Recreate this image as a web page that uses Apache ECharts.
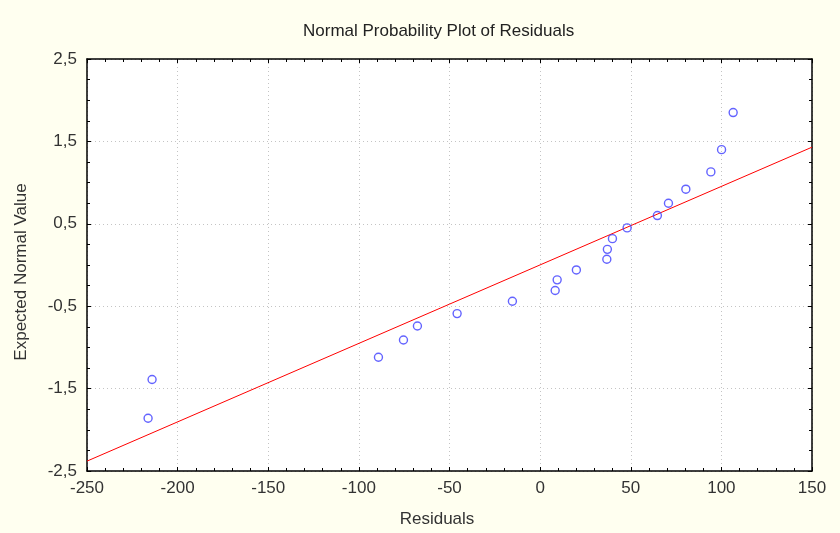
<!DOCTYPE html>
<html>
<head>
<meta charset="utf-8">
<script src="https://cdn.jsdelivr.net/npm/echarts@6/dist/echarts.min.js"></script>
<style>
  html, body { margin: 0; padding: 0; background: #fffff0; }
  #chart { width: 840px; height: 533px; }
</style>
</head>
<body>
<div id="chart"></div>
<script>
// residuals (x) and expected normal values (y)
const residuals = [-216.3, -214.1, -89.2, -75.4, -67.7, -45.8, -15.3, 8.3, 9.4, 20.0,
                   36.8, 37.1, 39.9, 48.0, 64.7, 70.8, 80.4, 94.2, 100.1, 106.5];
const expectedNormal = [-1.86, -1.39, -1.12, -0.91, -0.74, -0.59, -0.44, -0.31, -0.18, -0.06,
                        0.07, 0.19, 0.32, 0.45, 0.60, 0.75, 0.92, 1.13, 1.40, 1.85];
// reference line end points
const lineX = [-250, 150];
const lineY = [-2.38, 1.43];

const font = 'Liberation Sans, Arial, sans-serif';
const chart = echarts.init(document.getElementById('chart'));

const axisCommon = {
  axisLine: { show: true, onZero: false, lineStyle: { color: '#000', width: 1.5 } },
  axisTick: { show: true, inside: true, length: 4, lineStyle: { color: '#000' } },
  minorTick: { show: true, length: 3, lineStyle: { color: '#000' } }
};

chart.setOption({
  backgroundColor: '#fffff0',
  animation: false,
  title: {
    text: 'Normal Probability Plot of Residuals',
    left: 298,
    top: 18,
    textStyle: { fontFamily: font, fontSize: 17, fontWeight: 'normal', color: '#222' }
  },
  grid: { left: 87, right: 28, top: 59, bottom: 61, show: true, backgroundColor: '#fff', borderWidth: 0 },
  xAxis: [
    Object.assign({}, axisCommon, {
      type: 'value', min: -250, max: 150, interval: 50,
      name: 'Residuals', nameLocation: 'middle', nameGap: 40,
      nameTextStyle: { fontFamily: font, fontSize: 17, color: '#333', padding: [0, 25, 0, 0] },
      minorTick: Object.assign({}, axisCommon.minorTick, { splitNumber: 5 }),
      axisLabel: { fontFamily: font, fontSize: 17, color: '#333', margin: 9 },
      splitLine: { show: true, lineStyle: { color: '#c4c4c4', type: [1, 3] } }
    }),
    Object.assign({}, axisCommon, {
      type: 'value', min: -250, max: 150, interval: 50, position: 'top',
      minorTick: Object.assign({}, axisCommon.minorTick, { splitNumber: 5 }),
      axisLabel: { show: false }, splitLine: { show: false }
    })
  ],
  yAxis: [
    Object.assign({}, axisCommon, {
      type: 'value', min: -2.5, max: 2.5, interval: 1,
      name: 'Expected Normal Value', nameLocation: 'middle', nameGap: 57,
      nameTextStyle: { fontFamily: font, fontSize: 17, color: '#333', padding: [0, 14, 0, 0] },
      minorTick: Object.assign({}, axisCommon.minorTick, { splitNumber: 4 }),
      axisLabel: { fontFamily: font, fontSize: 17, color: '#333', margin: 10,
        formatter: v => String(v).replace('.', ',') },
      splitLine: { show: true, lineStyle: { color: '#c4c4c4', type: [1, 3] } }
    }),
    Object.assign({}, axisCommon, {
      type: 'value', min: -2.5, max: 2.5, interval: 1, position: 'right',
      minorTick: Object.assign({}, axisCommon.minorTick, { splitNumber: 4 }),
      axisLabel: { show: false }, splitLine: { show: false }
    })
  ],
  series: [
    {
      type: 'line',
      data: lineX.map((x, i) => [x, lineY[i]]),
      symbol: 'none',
      lineStyle: { color: '#ff0000', width: 1 },
      z: 2
    },
    {
      type: 'scatter',
      data: residuals.map((x, i) => [x, expectedNormal[i]]),
      symbol: 'circle',
      symbolSize: 8,
      itemStyle: { color: 'rgba(0,0,0,0)', borderColor: '#3c3cff', borderWidth: 1.4 },
      z: 3
    }
  ]
});
</script>
</body>
</html>
